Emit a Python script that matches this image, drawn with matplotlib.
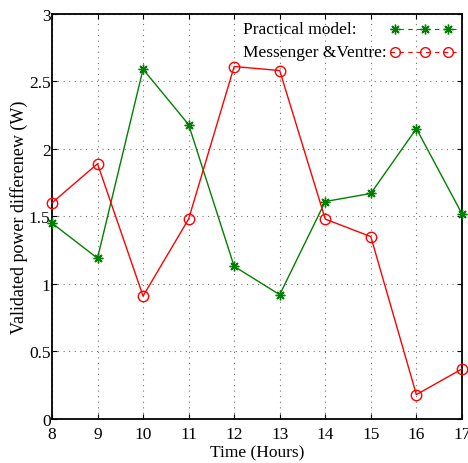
import matplotlib.pyplot as plt

hours = [8, 9, 10, 11, 12, 13, 14, 15, 16, 17]
practical = [1.45, 1.19, 2.59, 2.18, 1.13, 0.92, 1.61, 1.67, 2.15, 1.52]
messenger = [1.60, 1.89, 0.91, 1.48, 2.61, 2.58, 1.48, 1.35, 0.18, 0.37]
labels = ['Practical model:', 'Messenger &Ventre:']

plt.rcParams['font.family'] = ['Liberation Serif', 'DejaVu Serif']

fig = plt.figure(figsize=(4.68, 4.64), dpi=100)
ax = fig.add_axes([0.111, 0.095, 0.876, 0.873])

green = '#008000'
star = (8, 2, 0)
ax.plot(hours, practical, color=green, linewidth=1, marker=star, markersize=7,
        markeredgecolor=green, markeredgewidth=1, clip_on=False, zorder=3)
ax.plot(hours, messenger, color='red', linewidth=1, marker='o', markersize=7.5,
        markerfacecolor='none', markeredgecolor='red', markeredgewidth=1,
        clip_on=False, zorder=3)

ax.set_xlim(8, 17)
ax.set_ylim(0, 3)
ax.set_xticks(hours)
ax.set_yticks([0, 0.5, 1, 1.5, 2, 2.5, 3])
ax.set_yticklabels(['0', '0.5', '1', '1.5', '2', '2.5', '3'])
ax.tick_params(direction='in', top=True, right=True, labelsize=12.5)
ax.tick_params(axis='x', pad=5)
ax.tick_params(axis='y', pad=1)
ax.grid(True, linestyle=(0, (1, 4)), color='black', linewidth=0.8, alpha=0.55)
for s in ax.spines.values():
    s.set_linewidth(1.3)

ax.set_xlabel('Time (Hours)', fontsize=12.5, labelpad=2)
ax.set_ylabel('Validated power differenew (W)', fontsize=13, labelpad=0.5)

# legend drawn by hand: text on the left, sample line with markers on the right
rows = [(0.963, green, star, green), (0.907, 'red', 'o', 'none')]
for label, (y, col, mk, fc) in zip(labels, rows):
    ax.text(0.466, y, label, transform=ax.transAxes, fontsize=12.5,
            va='center', ha='left')
    ax.plot([0.825, 0.985], [y, y], transform=ax.transAxes, color=col,
            linestyle=(0, (4, 4)), linewidth=0.8)
    ax.plot([0.836, 0.910, 0.966], [y] * 3, transform=ax.transAxes,
            linestyle='none', marker=mk, markersize=7, markeredgecolor=col,
            markerfacecolor=fc, markeredgewidth=1)

fig.savefig('out.png', dpi=100)
